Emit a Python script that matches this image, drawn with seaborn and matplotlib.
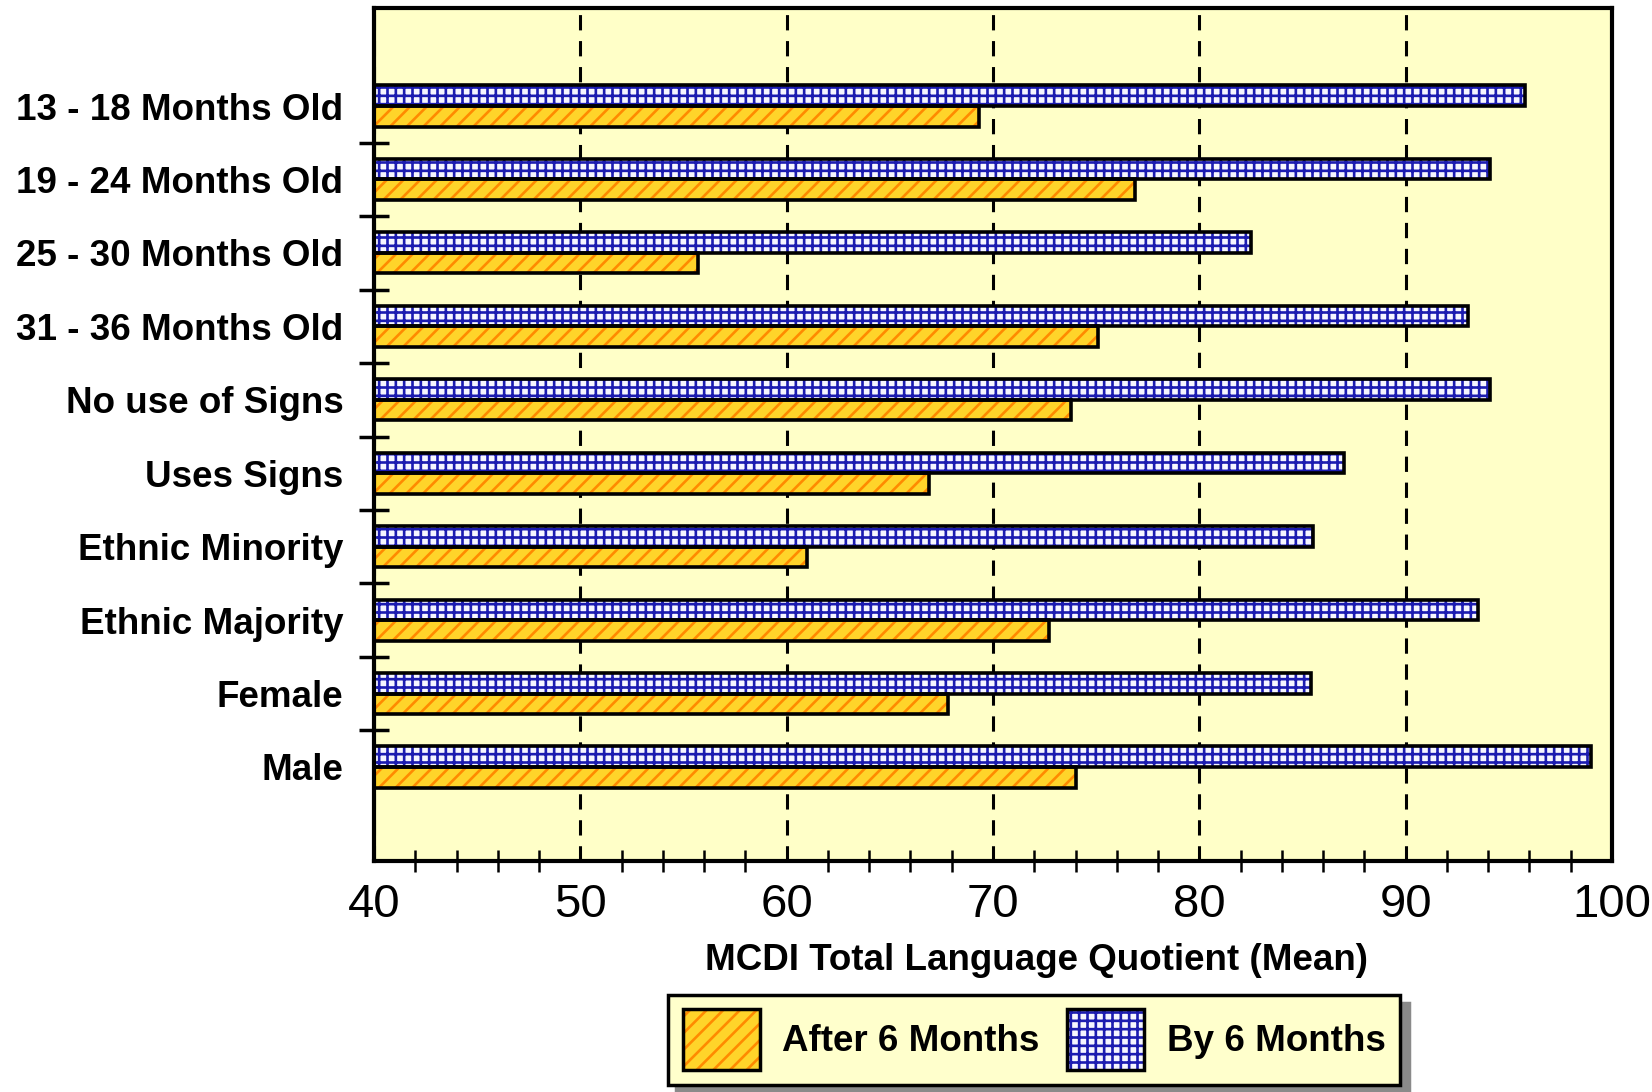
import numpy as np
import pandas as pd
import matplotlib
matplotlib.use("Agg")
import matplotlib.pyplot as plt
from matplotlib.patches import Patch, Rectangle
from matplotlib.ticker import MultipleLocator, FixedLocator
import seaborn as sns

# Mean MCDI total language quotient by subgroup
groups = [
    "13 - 18 Months Old",
    "19 - 24 Months Old",
    "25 - 30 Months Old",
    "31 - 36 Months Old",
    "No use of Signs",
    "Uses Signs",
    "Ethnic Minority",
    "Ethnic Majority",
    "Female",
    "Male",
]
by_6_months = [95.8, 94.1, 82.5, 93.0, 94.1, 87.0, 85.5, 93.5, 85.4, 99.0]
after_6_months = [69.3, 76.9, 55.7, 75.1, 73.8, 66.9, 61.0, 72.7, 67.8, 74.0]
x_ticks = [40, 50, 60, 70, 80, 90, 100]

series_order = ["By 6 Months", "After 6 Months"]
legend_order = ["After 6 Months", "By 6 Months"]

df = pd.DataFrame({
    "group": groups * 2,
    "value": by_6_months + after_6_months,
    "period": ["By 6 Months"] * len(groups) + ["After 6 Months"] * len(groups),
})

sns.set_theme(style="white")
plt.rcParams["font.family"] = ["Liberation Sans", "DejaVu Sans"]
plt.rcParams["text.color"] = "black"
plt.rcParams["hatch.linewidth"] = 1.9

styles = {
    "By 6 Months": dict(face="#F6F6FF", hatch="++", hcolor="#1C1CB0"),
    "After 6 Months": dict(face="#FFD42A", hatch="//", hcolor="#FF8A00"),
}

fig = plt.figure(figsize=(16.52, 10.92), dpi=100)
ax = fig.add_axes([374 / 1652, 1 - 861 / 1092, (1612 - 374) / 1652, (861 - 8) / 1092])
ax.set_facecolor("#FFFFC8")

sns.barplot(
    data=df, x="value", y="group", hue="period", hue_order=series_order,
    order=groups, orient="h", width=0.56, ax=ax, legend=False,
)

# hatched fill first, then a crisp black outline on top of each bar
for name, container in zip(series_order, ax.containers):
    st = styles[name]
    for bar in container:
        bar.set_facecolor(st["face"])
        bar.set_hatch(st["hatch"])
        bar.set_edgecolor(st["hcolor"])
        bar.set_linewidth(0)
        ax.add_patch(Rectangle(
            (bar.get_x(), bar.get_y()), bar.get_width(), bar.get_height(),
            fill=False, edgecolor="black", linewidth=2.6, zorder=bar.get_zorder() + 0.1,
        ))

ax.set_xlim(40, 100)
ax.set_ylim(10.28, -1.335)

# dashed reference lines
ax.set_axisbelow(True)
ax.xaxis.grid(True, which="major", linestyle=(0, (5, 3.5)), color="black", linewidth=2.2)
ax.yaxis.grid(False)

ax.xaxis.set_major_locator(FixedLocator(x_ticks))
ax.xaxis.set_minor_locator(MultipleLocator(2))
ax.tick_params(axis="x", which="major", direction="inout", length=22, width=2,
               color="black", pad=5)
ax.tick_params(axis="x", which="minor", direction="inout", length=16, width=1.8,
               color="black", bottom=True)
for lbl in ax.get_xticklabels():
    lbl.set_fontfamily(["Liberation Sans Narrow", "Liberation Sans", "DejaVu Sans"])
    lbl.set_fontsize(34)
    lbl.set_color("black")

ax.yaxis.set_minor_locator(FixedLocator(np.arange(len(groups) - 1) + 0.5))
ax.tick_params(axis="y", which="major", length=0, pad=22, labelsize=26.5,
               labelcolor="black")
ax.tick_params(axis="y", which="minor", direction="inout", length=22, width=2.5,
               color="black", left=True)
for lbl in ax.get_yticklabels():
    lbl.set_fontweight("bold")

ax.set_ylabel("")
ax.set_xlabel("MCDI Total Language Quotient (Mean)", fontsize=26.5,
              fontweight="bold", color="black")
ax.xaxis.set_label_coords(0.535, -0.096)

for side in ["left", "right", "top", "bottom"]:
    ax.spines[side].set_visible(True)
    ax.spines[side].set_color("black")
    ax.spines[side].set_linewidth(3)

handles = []
for name in legend_order:
    st = styles[name]
    handles.append((
        Patch(facecolor=st["face"], hatch=st["hatch"], edgecolor=st["hcolor"], linewidth=0),
        Patch(fill=False, edgecolor="black", linewidth=2.5),
    ))
leg = fig.legend(
    handles, legend_order, loc="center", bbox_to_anchor=(0.626, 0.048), ncol=2,
    frameon=True, fancybox=False,
    shadow={"ox": 6, "oy": -6, "color": "#8a8a8a", "alpha": 1},
    prop={"weight": "bold", "size": 26.5}, labelcolor="black",
    handlelength=2.1, handleheight=2.15, handletextpad=0.6, columnspacing=0.75,
    borderpad=0.4,
)
leg.get_frame().set_facecolor("#FFFFCC")
leg.get_frame().set_edgecolor("black")
leg.get_frame().set_linewidth(2.5)
leg.get_frame().set_alpha(1)

fig.savefig("out.png", dpi=100, facecolor="white")
